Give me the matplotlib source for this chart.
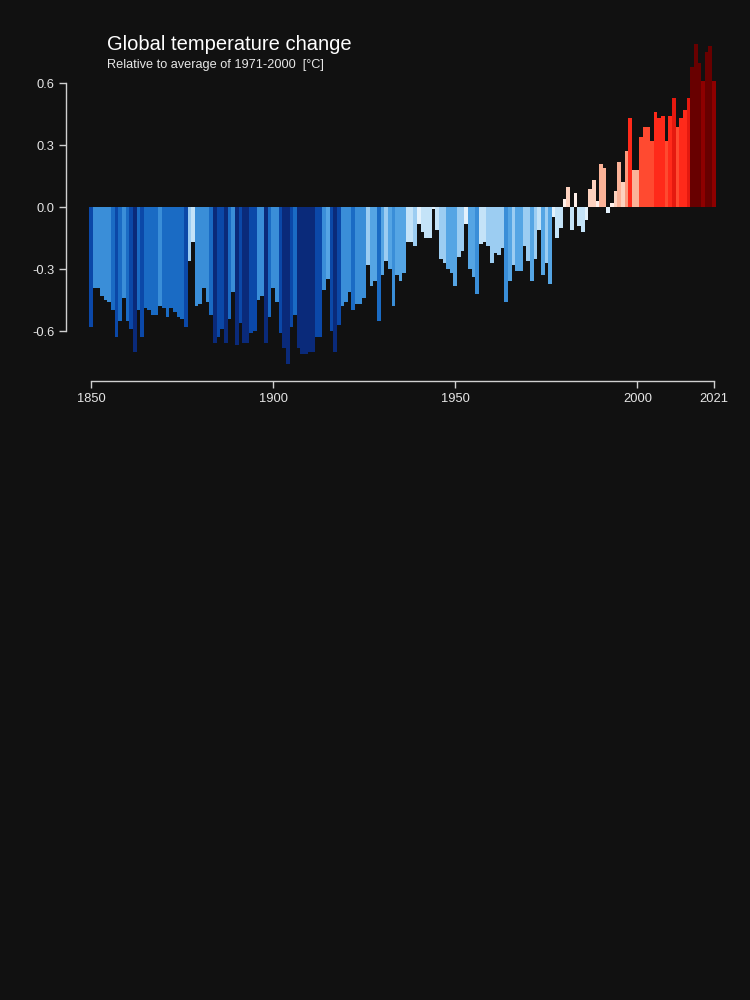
import numpy as np
import matplotlib
matplotlib.use("Agg")
import matplotlib.pyplot as plt

# Annual global temperature anomaly, relative to 1971-2000 [degC]
years = np.arange(1850, 2022)
anomaly = [
    -0.58, -0.39, -0.39, -0.43, -0.45, -0.46, -0.50, -0.63, -0.55, -0.44,  # 1850s
    -0.55, -0.59, -0.70, -0.50, -0.63, -0.49, -0.50, -0.52, -0.52, -0.48,  # 1860s
    -0.49, -0.53, -0.49, -0.51, -0.53, -0.54, -0.58, -0.26, -0.17, -0.48,  # 1870s
    -0.47, -0.39, -0.46, -0.52, -0.66, -0.63, -0.59, -0.66, -0.54, -0.41,  # 1880s
    -0.67, -0.56, -0.66, -0.66, -0.61, -0.60, -0.45, -0.43, -0.66, -0.53,  # 1890s
    -0.39, -0.46, -0.61, -0.68, -0.76, -0.58, -0.52, -0.68, -0.71, -0.71,  # 1900s
    -0.70, -0.70, -0.63, -0.63, -0.40, -0.35, -0.60, -0.70, -0.57, -0.48,  # 1910s
    -0.46, -0.41, -0.50, -0.47, -0.47, -0.44, -0.28, -0.38, -0.36, -0.55,  # 1920s
    -0.33, -0.26, -0.30, -0.48, -0.33, -0.36, -0.32, -0.17, -0.17, -0.19,  # 1930s
    -0.08, -0.12, -0.15, -0.15, -0.01, -0.11, -0.25, -0.27, -0.30, -0.32,  # 1940s
    -0.38, -0.24, -0.21, -0.08, -0.30, -0.34, -0.42, -0.18, -0.17, -0.19,  # 1950s
    -0.27, -0.22, -0.23, -0.20, -0.46, -0.36, -0.28, -0.31, -0.31, -0.19,  # 1960s
    -0.26, -0.36, -0.25, -0.11, -0.33, -0.27, -0.37, -0.05, -0.15, -0.10,  # 1970s
    0.04, 0.10, -0.11, 0.07, -0.09, -0.12, -0.06, 0.09, 0.13, 0.03,        # 1980s
    0.21, 0.19, -0.03, 0.02, 0.08, 0.22, 0.12, 0.27, 0.43, 0.18,           # 1990s
    0.18, 0.34, 0.39, 0.39, 0.32, 0.46, 0.43, 0.44, 0.32, 0.44,            # 2000s
    0.53, 0.39, 0.43, 0.47, 0.53, 0.68, 0.79, 0.70, 0.61, 0.75,            # 2010s
    0.78, 0.61,                                                            # 2020s
]

y_ticks = [-0.6, -0.3, 0.0, 0.3, 0.6]
x_ticks = [1850, 1900, 1950, 2000, 2021]

# discrete colour classes (blue -> red)
bin_edges = [-0.65, -0.55, -0.48, -0.38, -0.28, -0.18, -0.08, 0.0,
             0.08, 0.15, 0.25, 0.30, 0.40, 0.50, 0.60, 0.65]
bin_colors = ['#0a2a7a', '#0b48a8', '#1a6bc4', '#3a8ed8', '#55a5e4', '#9ccdf2',
              '#c4e3f8', '#e4f2fc', '#fff0ea', '#fdd2bf', '#fbb398', '#fc9a7c',
              '#ff4a30', '#ff2a1a', '#e5190f', '#8e0000', '#680000']

bg = '#111111'
fg = '#e6e6e6'

plt.rcParams['font.family'] = ['Liberation Sans', 'DejaVu Sans']

fig = plt.figure(figsize=(7.5, 10), dpi=100, facecolor=bg)
ax = fig.add_axes([0.088, 0.619, 0.8688, 0.339], facecolor=bg)

values = np.array(anomaly)
bar_colors = [bin_colors[i] for i in np.digitize(values, bin_edges)]
ax.bar(years, values, width=1.0, color=bar_colors, linewidth=0, antialiased=False)

ax.set_xlim(1843.14, 2022)
ax.set_ylim(-0.842, 0.80)

for side in ['top', 'right']:
    ax.spines[side].set_visible(False)
for side in ['left', 'bottom']:
    ax.spines[side].set_color('#d0d0d0')
    ax.spines[side].set_linewidth(1.0)
ax.spines['left'].set_bounds(-0.6, 0.6)
ax.spines['bottom'].set_bounds(1850, 2021)

ax.set_yticks(y_ticks)
ax.set_yticklabels(['%.1f' % t for t in y_ticks])
ax.set_xticks(x_ticks)
ax.set_xticklabels([str(t) for t in x_ticks])
ax.tick_params(colors='#d0d0d0', labelcolor=fg, labelsize=9.3, length=5, width=1.0, pad=3.5)

fig.text(0.1427, 0.955, 'Global temperature change', color='white',
         fontsize=14.5, va='center', ha='left')
fig.text(0.1427, 0.935, 'Relative to average of 1971-2000  [°C]', color=fg,
         fontsize=9.2, va='center', ha='left')

fig.savefig('out.png', dpi=100, facecolor=bg)
